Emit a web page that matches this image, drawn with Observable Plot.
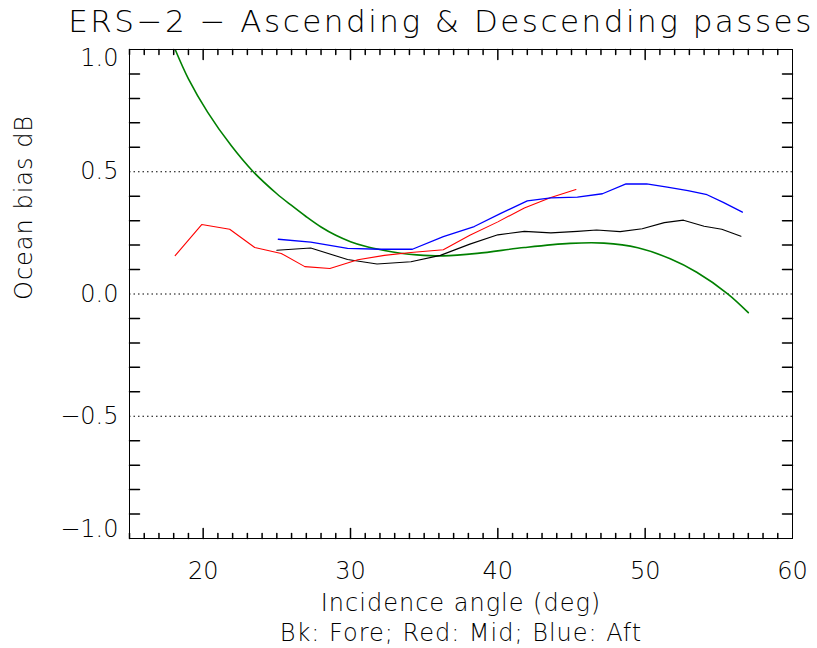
<!DOCTYPE html>
<html><head><meta charset="utf-8">
<script src="https://cdn.jsdelivr.net/npm/d3@7"></script>
<script src="https://cdn.jsdelivr.net/npm/@observablehq/plot@0.6"></script>
<style>
body{margin:0;background:#fff}
.ttl text{letter-spacing:2.5px}
.lbl text{letter-spacing:1px}
</style>
</head><body><div id="chart"></div>
<script>
// ---- data ----
const title = "ERS\u22122 \u2212 Ascending & Descending passes";
const xLabel = "Incidence angle (deg)";
const yLabel = "Ocean bias dB";
const caption = "Bk: Fore; Red: Mid; Blue: Aft";

const foreAngle = [25.0,27.3,29.8,31.8,34.1,36.1,38.1,40.0,41.8,43.6,45.4,46.7,48.3,49.8,51.3,52.6,54.0,55.2,56.5];
const foreBias  = [0.179,0.188,0.141,0.123,0.132,0.158,0.204,0.242,0.256,0.250,0.256,0.262,0.255,0.267,0.292,0.302,0.277,0.265,0.236];

const midAngle = [18.1,19.9,21.8,23.5,25.3,26.9,28.6,30.5,32.3,34.1,36.3,38.1,40.0,41.8,43.6,45.3];
const midBias  = [0.157,0.284,0.265,0.190,0.166,0.112,0.104,0.140,0.158,0.170,0.181,0.240,0.295,0.352,0.395,0.427];

const aftAngle = [25.1,27.3,29.8,32.0,34.2,36.3,38.4,40.2,42.0,43.6,45.4,47.1,48.7,50.1,51.5,52.9,54.2,55.3,56.6];
const aftBias  = [0.224,0.212,0.187,0.183,0.183,0.235,0.276,0.330,0.381,0.393,0.396,0.410,0.450,0.450,0.437,0.423,0.406,0.375,0.335];

const modelAngle = [18.1,19.0,20.3,21.9,23.4,25.0,26.0,27.0,28.0,29.0,30.0,31.0,32.3,33.4,34.5,36.3,38.6,41.8,44.9,47.2,49.5,51.7,53.5,55.6,57.0];
const modelBias  = [1.0,0.88,0.744,0.607,0.50,0.41,0.362,0.316,0.274,0.240,0.214,0.195,0.178,0.167,0.160,0.156,0.166,0.190,0.207,0.208,0.189,0.144,0.089,0.001,-0.076];

const xTickLabels = [20,30,40,50,60];
const yTickLabelsInner = [-0.5,0.0,0.5];
const yTickLabelTop = [1.0];
const yTickLabelBottom = [-1.0];
const refLevels = [0.5,0.0,-0.5];

// ---- build ----
const toRows = (xs, ys) => xs.map((x,i) => ({x, y: ys[i]}));
const xMinor = d3.range(15, 61, 1).filter(v => v % 10 !== 0);
const xMajor = d3.range(20, 60, 10);
const yMinor = d3.range(-9, 10, 1).filter(v => v % 5 !== 0).map(v => v/10);
const tick = {draw(ctx, l){ ctx.moveTo(0,0); ctx.lineTo(0,-l); }};
const fmt = d3.format(".1f");

const chart = Plot.plot({
  width: 817, height: 648,
  marginLeft: 129, marginRight: 25, marginTop: 49, marginBottom: 110,
  style: {fontFamily: "DejaVu Sans", fontSize: "24px", fontWeight: 200, color: "#000", background: "#fff"},
  x: {domain: [15, 60]},
  y: {domain: [-1, 1]},
  marks: [
    Plot.ruleY(refLevels, {stroke: "#000", strokeWidth: 1, strokeDasharray: "1.5,3"}),
    Plot.line(toRows(modelAngle, modelBias), {x: "x", y: "y", stroke: "#008000", strokeWidth: 1.6, curve: "catmull-rom", clip: true}),
    Plot.line(toRows(foreAngle, foreBias), {x: "x", y: "y", stroke: "#000", strokeWidth: 1.1}),
    Plot.line(toRows(midAngle, midBias), {x: "x", y: "y", stroke: "#ff0000", strokeWidth: 1.1}),
    Plot.line(toRows(aftAngle, aftBias), {x: "x", y: "y", stroke: "#0000ff", strokeWidth: 1.3}),
    Plot.frame({stroke: "#000", strokeWidth: 1}),
    // inward ticks
    Plot.vectorX(xMinor, {x: d => d, frameAnchor: "bottom", length: 5, rotate: 0, anchor: "start", shape: tick, stroke: "#000"}),
    Plot.vectorX(xMajor, {x: d => d, frameAnchor: "bottom", length: 10, rotate: 0, anchor: "start", shape: tick, stroke: "#000"}),
    Plot.vectorX(xMinor, {x: d => d, frameAnchor: "top", length: 5, rotate: 180, anchor: "start", shape: tick, stroke: "#000"}),
    Plot.vectorX(xMajor, {x: d => d, frameAnchor: "top", length: 10, rotate: 180, anchor: "start", shape: tick, stroke: "#000"}),
    Plot.vectorY(yMinor, {y: d => d, frameAnchor: "left", length: 10, rotate: 90, anchor: "start", shape: tick, stroke: "#000"}),
    Plot.vectorY(yMinor, {y: d => d, frameAnchor: "right", length: 10, rotate: 270, anchor: "start", shape: tick, stroke: "#000"}),
    // tick labels
    Plot.axisX(xTickLabels, {anchor: "bottom", tickSize: 0, tickPadding: 23, label: null, fontSize: 24}),
    Plot.axisY(yTickLabelsInner, {anchor: "left", tickSize: 0, tickPadding: 11, label: null, tickFormat: fmt, fontSize: 24}),
    Plot.axisY(yTickLabelTop, {anchor: "left", tickSize: 0, tickPadding: 11, label: null, tickFormat: fmt, fontSize: 24, dy: 9}),
    Plot.axisY(yTickLabelBottom, {anchor: "left", tickSize: 0, tickPadding: 11, label: null, tickFormat: fmt, fontSize: 24, dy: -9}),
    // titles
    Plot.text([title], {frameAnchor: "top", dx: -20, dy: -27, fontSize: 31, lineAnchor: "middle", className: "ttl"}),
    Plot.text([xLabel], {frameAnchor: "bottom", dy: 65, fontSize: 24, lineAnchor: "middle", className: "lbl"}),
    Plot.text([caption], {frameAnchor: "bottom", dy: 95, fontSize: 24, lineAnchor: "middle", className: "lbl"}),
    Plot.text([yLabel], {frameAnchor: "left", dx: -105, dy: 6, rotate: -90, fontSize: 24, lineAnchor: "middle", className: "lbl"})
  ]
});
document.getElementById("chart").appendChild(chart);
</script>
</body></html>
